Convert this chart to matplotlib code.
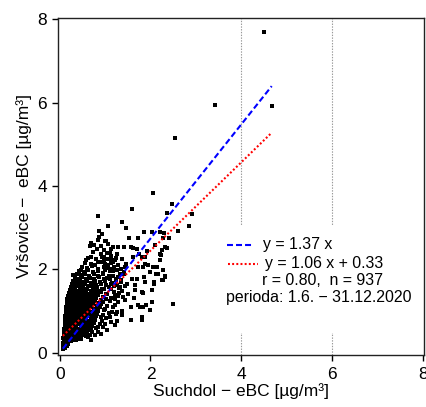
import matplotlib
matplotlib.use("Agg")
from matplotlib import pyplot as plt
from matplotlib.patches import Rectangle
import numpy as np

# daily eBC means (dense core row by row, then the spread)
core_x = [
    0.07, 0.09, 0.11, 0.13, 0.08, 0.12, 0.15, 0.18,
    0.07, 0.10, 0.13, 0.16, 0.19, 0.22, 0.26, 0.30, 0.09, 0.14,
    0.08, 0.11, 0.15, 0.18, 0.21, 0.25, 0.28, 0.33, 0.37, 0.43, 0.48,
    0.09, 0.12, 0.15, 0.19, 0.23, 0.27, 0.31, 0.35, 0.40, 0.45, 0.51, 0.57, 0.66,
    0.10, 0.13, 0.17, 0.20, 0.24, 0.28, 0.32, 0.37, 0.42, 0.47, 0.53, 0.60, 0.71,
    0.10, 0.14, 0.18, 0.22, 0.26, 0.30, 0.35, 0.39, 0.44, 0.50, 0.55, 0.62, 0.69, 0.80,
    0.11, 0.15, 0.19, 0.23, 0.27, 0.31, 0.36, 0.41, 0.46, 0.52, 0.58, 0.64, 0.72, 0.85,
    0.11, 0.15, 0.20, 0.24, 0.28, 0.33, 0.38, 0.43, 0.48, 0.54, 0.60, 0.67, 0.75, 0.89,
    0.12, 0.16, 0.21, 0.25, 0.29, 0.34, 0.39, 0.44, 0.50, 0.56, 0.62, 0.69, 0.78, 0.93, 1.12,
    0.12, 0.17, 0.22, 0.26, 0.31, 0.36, 0.41, 0.46, 0.52, 0.58, 0.64, 0.71, 0.80, 0.90, 1.03,
    0.13, 0.18, 0.23, 0.27, 0.32, 0.37, 0.42, 0.48, 0.54, 0.60, 0.66, 0.73, 0.82, 0.95, 1.08,
    0.13, 0.18, 0.23, 0.28, 0.33, 0.38, 0.44, 0.50, 0.56, 0.62, 0.68, 0.76, 0.85, 0.98, 1.15,
    0.14, 0.19, 0.24, 0.29, 0.34, 0.40, 0.46, 0.52, 0.58, 0.64, 0.71, 0.79, 0.88, 1.00,
    0.15, 0.20, 0.25, 0.30, 0.36, 0.42, 0.48, 0.54, 0.60, 0.67, 0.74, 0.82, 0.92, 1.05, 1.22,
    0.16, 0.21, 0.27, 0.32, 0.38, 0.44, 0.50, 0.56, 0.63, 0.70, 0.77, 0.86, 0.96,
    0.17, 0.22, 0.28, 0.34, 0.40, 0.46, 0.52, 0.59, 0.66, 0.73, 0.81, 0.90, 1.01, 1.14,
    0.18, 0.24, 0.30, 0.36, 0.42, 0.48, 0.55, 0.62, 0.69, 0.77, 0.85, 0.95,
    0.20, 0.26, 0.32, 0.38, 0.44, 0.51, 0.58, 0.65, 0.73, 0.81, 0.90, 1.02,
    0.22, 0.28, 0.34, 0.41, 0.47, 0.54, 0.61, 0.69, 0.77, 0.86, 0.97,
    0.24, 0.30, 0.37, 0.44, 0.51, 0.58, 0.66, 0.74, 0.83, 0.93, 1.08,
    0.27, 0.34, 0.41, 0.48, 0.55, 0.63, 0.71, 0.80, 0.90,
    0.30, 0.38, 0.45, 0.53, 0.61, 0.69, 0.78, 0.88, 1.00,
    0.34, 0.42, 0.50, 0.58, 0.67, 0.76, 0.86, 0.98,
    0.38, 0.47, 0.56, 0.65, 0.75, 0.85, 0.96,
    0.43, 0.53, 0.63, 0.73, 0.84, 0.96, 1.10,
    0.49, 0.61, 0.72, 0.85, 0.98,
    0.55, 0.70, 0.84, 1.00,
    0.62, 0.80, 0.97, 1.15,
]
core_y = [
    0.10, 0.13, 0.12, 0.16, 0.18, 0.20, 0.17, 0.22,
    0.24, 0.26, 0.25, 0.28, 0.24, 0.29, 0.27, 0.30, 0.31, 0.33,
    0.36, 0.38, 0.35, 0.40, 0.34, 0.38, 0.33, 0.36, 0.31, 0.34, 0.32,
    0.44, 0.41, 0.46, 0.43, 0.45, 0.42, 0.47, 0.40, 0.44, 0.41, 0.43, 0.39, 0.42,
    0.51, 0.49, 0.53, 0.50, 0.52, 0.48, 0.54, 0.50, 0.53, 0.49, 0.51, 0.48, 0.50,
    0.58, 0.56, 0.60, 0.57, 0.59, 0.55, 0.60, 0.57, 0.58, 0.56, 0.61, 0.57, 0.55, 0.59,
    0.66, 0.63, 0.67, 0.64, 0.68, 0.63, 0.66, 0.69, 0.64, 0.67, 0.63, 0.66, 0.64, 0.62,
    0.73, 0.71, 0.74, 0.70, 0.75, 0.72, 0.70, 0.74, 0.71, 0.75, 0.70, 0.73, 0.71, 0.69,
    0.80, 0.78, 0.82, 0.79, 0.81, 0.77, 0.82, 0.78, 0.80, 0.83, 0.77, 0.80, 0.78, 0.76, 0.73,
    0.88, 0.86, 0.89, 0.85, 0.88, 0.84, 0.89, 0.86, 0.87, 0.84, 0.89, 0.85, 0.88, 0.86, 0.84,
    0.95, 0.93, 0.96, 0.92, 0.95, 0.91, 0.96, 0.93, 0.95, 0.91, 0.96, 0.92, 0.94, 0.91, 0.95,
    1.02, 1.00, 1.03, 0.99, 1.02, 0.98, 1.03, 1.00, 0.99, 1.03, 0.98, 1.01, 0.99, 1.02, 0.97,
    1.09, 1.07, 1.10, 1.06, 1.09, 1.05, 1.10, 1.07, 1.08, 1.05, 1.10, 1.06, 1.09, 1.06,
    1.16, 1.14, 1.17, 1.13, 1.16, 1.12, 1.17, 1.14, 1.15, 1.12, 1.17, 1.13, 1.16, 1.12, 1.15,
    1.23, 1.21, 1.24, 1.20, 1.23, 1.19, 1.24, 1.21, 1.22, 1.19, 1.24, 1.20, 1.22,
    1.30, 1.28, 1.31, 1.27, 1.30, 1.26, 1.31, 1.28, 1.29, 1.26, 1.31, 1.27, 1.29, 1.32,
    1.37, 1.35, 1.38, 1.34, 1.37, 1.33, 1.38, 1.35, 1.36, 1.33, 1.38, 1.34,
    1.44, 1.42, 1.45, 1.41, 1.44, 1.40, 1.45, 1.42, 1.43, 1.40, 1.45, 1.41,
    1.51, 1.49, 1.52, 1.48, 1.51, 1.47, 1.52, 1.49, 1.50, 1.47, 1.52,
    1.58, 1.56, 1.59, 1.55, 1.58, 1.54, 1.59, 1.56, 1.57, 1.54, 1.58,
    1.65, 1.63, 1.66, 1.62, 1.65, 1.61, 1.66, 1.63, 1.64,
    1.72, 1.70, 1.73, 1.69, 1.72, 1.68, 1.73, 1.70, 1.71,
    1.80, 1.78, 1.81, 1.77, 1.80, 1.76, 1.81, 1.78,
    1.88, 1.86, 1.89, 1.85, 1.88, 1.84, 1.89,
    1.97, 1.94, 1.98, 1.93, 1.96, 1.92, 1.97,
    2.06, 2.03, 2.07, 2.02, 2.05,
    2.16, 2.13, 2.17, 2.12,
    2.27, 2.24, 2.28, 2.23,
]

spread_x = [
    4.50, 3.42, 4.67, 2.54, 2.05, 1.59, 2.48, 2.36, 2.91, 2.84,
    2.61, 0.84, 1.07, 1.38, 1.47, 0.87, 0.86, 1.00, 1.18, 1.28,
    1.42, 1.53, 1.73, 1.86, 2.03, 2.21, 2.30, 2.28, 2.41, 2.10,
    2.36, 1.92, 2.25, 2.23, 2.21, 1.88, 1.94, 2.06, 2.28, 1.99,
    2.17, 2.32, 2.28, 2.08, 1.88, 0.74, 0.94, 1.11, 0.59, 1.24,
    1.37, 1.62, 1.57, 1.70, 0.78, 0.87, 1.07, 1.18, 1.29, 1.44,
    1.73, 0.48, 1.26, 1.46, 1.42, 1.48, 1.50, 1.59, 1.66, 1.75,
    1.81, 1.84, 1.88, 1.95, 1.86, 1.84, 1.81, 2.03, 2.08, 2.12,
    2.15, 2.21, 2.31, 2.26, 2.33, 2.03, 1.70, 1.57, 1.73, 1.90,
    1.29, 1.37, 1.24, 1.18, 1.27, 1.22, 2.50, 2.00, 1.56, 1.81,
    1.33, 1.44, 1.66, 1.44, 1.64, 1.77, 1.84, 1.81, 1.37, 1.26,
    0.78, 0.63, 0.85, 1.05, 1.12, 1.20, 1.15, 1.25, 1.08, 1.32,
    1.18, 1.38, 1.28, 1.10, 1.35, 1.02, 1.22, 1.12, 0.98, 0.70,
    0.95, 1.05, 0.90, 0.70, 1.00, 1.10, 0.30, 1.62, 1.02, 0.66,
    1.02, 1.08, 1.14, 1.20, 1.26, 1.31, 1.05, 1.11, 1.17, 1.23,
    1.29, 1.35, 1.00, 1.06, 1.13, 1.19, 1.26, 1.34, 1.41, 0.93,
    0.99, 1.06, 1.13, 1.21, 0.90, 0.97, 1.04, 1.12, 0.82, 0.90,
    0.98, 1.06, 1.14, 0.68, 0.76, 0.85, 0.93, 1.22, 1.30, 1.39,
]
spread_y = [
    7.70, 5.94, 5.92, 5.15, 3.84, 3.45, 3.57, 3.36, 3.32, 3.05,
    2.93, 3.29, 3.03, 3.14, 3.00, 2.93, 2.77, 2.68, 2.54, 2.53,
    2.53, 2.76, 2.76, 2.89, 2.89, 2.90, 2.88, 2.75, 2.76, 2.58,
    2.52, 2.45, 2.46, 2.34, 2.22, 2.30, 2.10, 2.06, 1.98, 1.94,
    1.90, 1.85, 1.74, 1.70, 1.69, 2.42, 2.29, 2.40, 2.22, 2.28,
    2.24, 2.29, 2.54, 2.49, 2.10, 2.18, 2.10, 2.18, 2.10, 2.06,
    2.06, 1.98, 2.38, 2.14, 1.90, 1.66, 1.42, 1.76, 1.62, 2.38,
    2.30, 2.06, 2.14, 2.10, 1.82, 1.44, 1.46, 1.22, 1.66, 1.90,
    2.06, 2.38, 2.54, 1.74, 1.82, 1.50, 1.78, 1.10, 1.14, 1.14,
    1.22, 1.01, 0.94, 1.10, 0.77, 0.66, 1.16, 1.02, 0.78, 0.78,
    1.58, 1.61, 1.50, 1.26, 1.32, 1.10, 1.10, 0.86, 0.90, 0.98,
    0.42, 0.38, 0.50, 1.40, 1.52, 1.45, 1.68, 1.75, 1.85, 1.88,
    1.95, 1.48, 1.35, 1.25, 1.70, 1.62, 1.30, 2.00, 2.22, 2.30,
    0.62, 0.55, 0.45, 0.30, 0.70, 0.85, 1.86, 2.52, 2.68, 2.55,
    1.62, 1.57, 1.66, 1.59, 1.63, 1.55, 1.80, 1.76, 1.84, 1.78,
    1.82, 1.74, 1.98, 2.03, 1.95, 2.06, 1.99, 2.02, 1.94, 2.18,
    2.12, 2.25, 2.16, 2.22, 2.36, 2.30, 2.40, 2.33, 2.50, 2.56,
    2.46, 2.60, 2.48, 2.64, 2.58, 2.70, 2.86, 1.38, 1.44, 1.34,
]

# regression results printed in the legend
slope_zero = 1.37
slope_fit, icpt_fit = 1.06, 0.33
legend_lines = ["y = 1.37 x", "y = 1.06 x + 0.33"]
stats_text = "r = 0.80,  n = 937"
period_text = "perioda: 1.6. \u2212 31.12.2020"

assert len(core_x) == len(core_y) and len(spread_x) == len(spread_y)
suchdol = np.array(core_x + spread_x)
vrsovice = np.array(core_y + spread_y)

plt.rcParams["font.family"] = ["Liberation Sans", "DejaVu Sans"]
plt.rcParams["lines.scale_dashes"] = False

fig = plt.figure(figsize=(4.27, 4.07), dpi=100)
ax = fig.add_axes([0.1347, 0.1278, 0.8583, 0.8292])

ax.set_xlim(-0.048, 8.025)
ax.set_ylim(-0.055, 8.045)

# the two dotted guide lines
for gx in [4, 6]:
    ax.axvline(gx, color="#9a9a9a", lw=0.8, ls=(0, (1, 1)), zorder=1)

ax.plot(suchdol, vrsovice, "s", color="black", ms=2.4, mew=0, zorder=3)

xs = np.array([suchdol.min(), suchdol.max()])
blue, = ax.plot(xs, slope_zero * xs, color="#0000ff", lw=1.5, zorder=4)
blue.set_dashes([4.3, 2.2])
red, = ax.plot(xs, slope_fit * xs + icpt_fit, color="#ff0000", lw=1.5, zorder=4)
red.set_dashes([1.4, 1.6])

# white panel behind the text block (hides the guide lines there)
ax.add_patch(Rectangle((0.445, 0.065), 0.54, 0.32, transform=ax.transAxes,
                       facecolor="white", edgecolor="none", zorder=2))

fs = 11.4
b2, = ax.plot([0.462, 0.534], [0.326, 0.326], transform=ax.transAxes,
              color="#0000ff", lw=1.5, zorder=5)
b2.set_dashes([4.3, 2.2])
r2, = ax.plot([0.465, 0.547], [0.270, 0.270], transform=ax.transAxes,
              color="#ff0000", lw=1.5, zorder=5)
r2.set_dashes([1.4, 1.6])
ax.text(0.560, 0.326, legend_lines[0], transform=ax.transAxes, fontsize=fs,
        va="center", ha="left", zorder=5)
ax.text(0.566, 0.270, legend_lines[1], transform=ax.transAxes, fontsize=fs,
        va="center", ha="left", zorder=5)
ax.text(0.557, 0.220, stats_text, transform=ax.transAxes, fontsize=fs,
        va="center", ha="left", zorder=5)
ax.text(0.460, 0.169, period_text, transform=ax.transAxes, fontsize=fs,
        va="center", ha="left", zorder=5)

ax.set_xticks([0, 2, 4, 6, 8])
ax.set_yticks([0, 2, 4, 6, 8])
ax.tick_params(axis="both", direction="out", length=4.5, width=1, labelsize=12.5)
ax.tick_params(axis="x", pad=4)
ax.tick_params(axis="y", pad=3)
for sp in ax.spines.values():
    sp.set_linewidth(1)
    sp.set_color("#222222")

ax.set_xlabel("Suchdol \u2212 eBC [\u00b5g/m\u00b3]", fontsize=12.5, labelpad=1)
ax.set_ylabel("Vr\u0161ovice \u2212  eBC [\u00b5g/m\u00b3]", fontsize=12.5, labelpad=4)

fig.savefig("out.png", dpi=100)
